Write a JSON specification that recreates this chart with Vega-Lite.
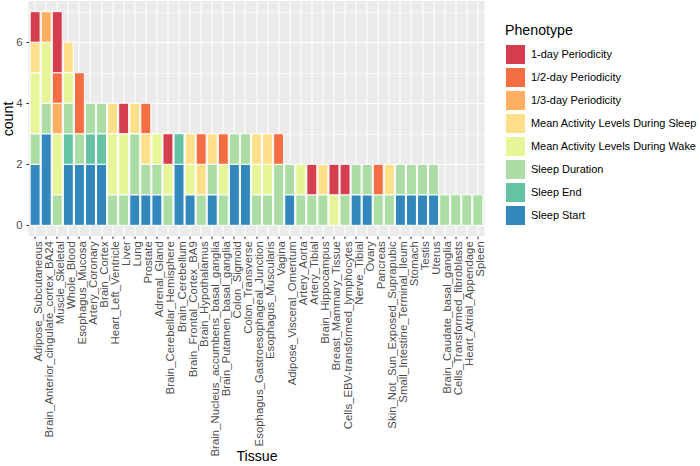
{
  "$schema": "https://vega.github.io/schema/vega-lite/v6.json",
  "width": 456,
  "height": 235,
  "autosize": {"type": "none"},
  "padding": {"left": 28.5, "top": 1, "right": 215.5, "bottom": 230},
  "background": "white",
  "config": {
    "font": "Liberation Sans",
    "view": {"stroke": null, "fill": "#EBEBEB"}
  },
  "data": {
    "values": [
      {"Tissue": "Adipose_Subcutaneous", "Phenotype": "Sleep Start", "count": 2},
      {"Tissue": "Adipose_Subcutaneous", "Phenotype": "Sleep Duration", "count": 1},
      {"Tissue": "Adipose_Subcutaneous", "Phenotype": "Mean Activity Levels During Wake", "count": 2},
      {"Tissue": "Adipose_Subcutaneous", "Phenotype": "Mean Activity Levels During Sleep", "count": 1},
      {"Tissue": "Adipose_Subcutaneous", "Phenotype": "1-day Periodicity", "count": 1},
      {"Tissue": "Brain_Anterior_cingulate_cortex_BA24", "Phenotype": "Sleep Start", "count": 3},
      {"Tissue": "Brain_Anterior_cingulate_cortex_BA24", "Phenotype": "Sleep Duration", "count": 1},
      {"Tissue": "Brain_Anterior_cingulate_cortex_BA24", "Phenotype": "Mean Activity Levels During Wake", "count": 2},
      {"Tissue": "Brain_Anterior_cingulate_cortex_BA24", "Phenotype": "1/3-day Periodicity", "count": 1},
      {"Tissue": "Muscle_Skeletal", "Phenotype": "Sleep Duration", "count": 1},
      {"Tissue": "Muscle_Skeletal", "Phenotype": "Mean Activity Levels During Wake", "count": 2},
      {"Tissue": "Muscle_Skeletal", "Phenotype": "1/3-day Periodicity", "count": 1},
      {"Tissue": "Muscle_Skeletal", "Phenotype": "1/2-day Periodicity", "count": 1},
      {"Tissue": "Muscle_Skeletal", "Phenotype": "1-day Periodicity", "count": 2},
      {"Tissue": "Whole_Blood", "Phenotype": "Sleep Start", "count": 2},
      {"Tissue": "Whole_Blood", "Phenotype": "Sleep End", "count": 1},
      {"Tissue": "Whole_Blood", "Phenotype": "Sleep Duration", "count": 1},
      {"Tissue": "Whole_Blood", "Phenotype": "Mean Activity Levels During Wake", "count": 1},
      {"Tissue": "Whole_Blood", "Phenotype": "Mean Activity Levels During Sleep", "count": 1},
      {"Tissue": "Esophagus_Mucosa", "Phenotype": "Sleep Start", "count": 2},
      {"Tissue": "Esophagus_Mucosa", "Phenotype": "Sleep Duration", "count": 1},
      {"Tissue": "Esophagus_Mucosa", "Phenotype": "1/2-day Periodicity", "count": 2},
      {"Tissue": "Artery_Coronary", "Phenotype": "Sleep Start", "count": 2},
      {"Tissue": "Artery_Coronary", "Phenotype": "Sleep End", "count": 1},
      {"Tissue": "Artery_Coronary", "Phenotype": "Sleep Duration", "count": 1},
      {"Tissue": "Brain_Cortex", "Phenotype": "Sleep Start", "count": 2},
      {"Tissue": "Brain_Cortex", "Phenotype": "Sleep End", "count": 1},
      {"Tissue": "Brain_Cortex", "Phenotype": "Sleep Duration", "count": 1},
      {"Tissue": "Heart_Left_Ventricle", "Phenotype": "Sleep Duration", "count": 1},
      {"Tissue": "Heart_Left_Ventricle", "Phenotype": "Mean Activity Levels During Wake", "count": 2},
      {"Tissue": "Heart_Left_Ventricle", "Phenotype": "Mean Activity Levels During Sleep", "count": 1},
      {"Tissue": "Liver", "Phenotype": "Sleep Duration", "count": 1},
      {"Tissue": "Liver", "Phenotype": "Mean Activity Levels During Wake", "count": 2},
      {"Tissue": "Liver", "Phenotype": "1-day Periodicity", "count": 1},
      {"Tissue": "Lung", "Phenotype": "Sleep Start", "count": 1},
      {"Tissue": "Lung", "Phenotype": "Sleep Duration", "count": 2},
      {"Tissue": "Lung", "Phenotype": "Mean Activity Levels During Sleep", "count": 1},
      {"Tissue": "Prostate", "Phenotype": "Sleep Start", "count": 1},
      {"Tissue": "Prostate", "Phenotype": "Sleep Duration", "count": 1},
      {"Tissue": "Prostate", "Phenotype": "Mean Activity Levels During Sleep", "count": 1},
      {"Tissue": "Prostate", "Phenotype": "1/2-day Periodicity", "count": 1},
      {"Tissue": "Adrenal_Gland", "Phenotype": "Sleep Start", "count": 1},
      {"Tissue": "Adrenal_Gland", "Phenotype": "Sleep Duration", "count": 1},
      {"Tissue": "Adrenal_Gland", "Phenotype": "Mean Activity Levels During Wake", "count": 1},
      {"Tissue": "Brain_Cerebellar_Hemisphere", "Phenotype": "Sleep Duration", "count": 1},
      {"Tissue": "Brain_Cerebellar_Hemisphere", "Phenotype": "Mean Activity Levels During Wake", "count": 1},
      {"Tissue": "Brain_Cerebellar_Hemisphere", "Phenotype": "1-day Periodicity", "count": 1},
      {"Tissue": "Brain_Cerebellum", "Phenotype": "Sleep Start", "count": 2},
      {"Tissue": "Brain_Cerebellum", "Phenotype": "Sleep End", "count": 1},
      {"Tissue": "Brain_Frontal_Cortex_BA9", "Phenotype": "Sleep Start", "count": 1},
      {"Tissue": "Brain_Frontal_Cortex_BA9", "Phenotype": "Mean Activity Levels During Wake", "count": 1},
      {"Tissue": "Brain_Frontal_Cortex_BA9", "Phenotype": "Mean Activity Levels During Sleep", "count": 1},
      {"Tissue": "Brain_Hypothalamus", "Phenotype": "Sleep Duration", "count": 1},
      {"Tissue": "Brain_Hypothalamus", "Phenotype": "Mean Activity Levels During Sleep", "count": 1},
      {"Tissue": "Brain_Hypothalamus", "Phenotype": "1/2-day Periodicity", "count": 1},
      {"Tissue": "Brain_Nucleus_accumbens_basal_ganglia", "Phenotype": "Sleep Start", "count": 1},
      {"Tissue": "Brain_Nucleus_accumbens_basal_ganglia", "Phenotype": "Sleep Duration", "count": 1},
      {"Tissue": "Brain_Nucleus_accumbens_basal_ganglia", "Phenotype": "Mean Activity Levels During Sleep", "count": 1},
      {"Tissue": "Brain_Putamen_basal_ganglia", "Phenotype": "Sleep Duration", "count": 1},
      {"Tissue": "Brain_Putamen_basal_ganglia", "Phenotype": "Mean Activity Levels During Wake", "count": 1},
      {"Tissue": "Brain_Putamen_basal_ganglia", "Phenotype": "1/2-day Periodicity", "count": 1},
      {"Tissue": "Colon_Sigmoid", "Phenotype": "Sleep Start", "count": 2},
      {"Tissue": "Colon_Sigmoid", "Phenotype": "Sleep Duration", "count": 1},
      {"Tissue": "Colon_Transverse", "Phenotype": "Sleep Start", "count": 2},
      {"Tissue": "Colon_Transverse", "Phenotype": "Sleep Duration", "count": 1},
      {"Tissue": "Esophagus_Gastroesophageal_Junction", "Phenotype": "Sleep Duration", "count": 1},
      {"Tissue": "Esophagus_Gastroesophageal_Junction", "Phenotype": "Mean Activity Levels During Wake", "count": 1},
      {"Tissue": "Esophagus_Gastroesophageal_Junction", "Phenotype": "Mean Activity Levels During Sleep", "count": 1},
      {"Tissue": "Esophagus_Muscularis", "Phenotype": "Sleep Duration", "count": 1},
      {"Tissue": "Esophagus_Muscularis", "Phenotype": "Mean Activity Levels During Wake", "count": 1},
      {"Tissue": "Esophagus_Muscularis", "Phenotype": "Mean Activity Levels During Sleep", "count": 1},
      {"Tissue": "Vagina", "Phenotype": "Sleep Duration", "count": 2},
      {"Tissue": "Vagina", "Phenotype": "1/2-day Periodicity", "count": 1},
      {"Tissue": "Adipose_Visceral_Omentum", "Phenotype": "Sleep Start", "count": 1},
      {"Tissue": "Adipose_Visceral_Omentum", "Phenotype": "Sleep Duration", "count": 1},
      {"Tissue": "Artery_Aorta", "Phenotype": "Sleep Duration", "count": 1},
      {"Tissue": "Artery_Aorta", "Phenotype": "Mean Activity Levels During Wake", "count": 1},
      {"Tissue": "Artery_Tibial", "Phenotype": "Sleep Duration", "count": 1},
      {"Tissue": "Artery_Tibial", "Phenotype": "1-day Periodicity", "count": 1},
      {"Tissue": "Brain_Hippocampus", "Phenotype": "Sleep Duration", "count": 1},
      {"Tissue": "Brain_Hippocampus", "Phenotype": "Mean Activity Levels During Sleep", "count": 1},
      {"Tissue": "Breast_Mammary_Tissue", "Phenotype": "Mean Activity Levels During Wake", "count": 1},
      {"Tissue": "Breast_Mammary_Tissue", "Phenotype": "1-day Periodicity", "count": 1},
      {"Tissue": "Cells_EBV-transformed_lymphocytes", "Phenotype": "Sleep Duration", "count": 1},
      {"Tissue": "Cells_EBV-transformed_lymphocytes", "Phenotype": "1-day Periodicity", "count": 1},
      {"Tissue": "Nerve_Tibial", "Phenotype": "Sleep Start", "count": 1},
      {"Tissue": "Nerve_Tibial", "Phenotype": "Sleep Duration", "count": 1},
      {"Tissue": "Ovary", "Phenotype": "Sleep Start", "count": 1},
      {"Tissue": "Ovary", "Phenotype": "Sleep Duration", "count": 1},
      {"Tissue": "Pancreas", "Phenotype": "Sleep Duration", "count": 1},
      {"Tissue": "Pancreas", "Phenotype": "1/2-day Periodicity", "count": 1},
      {"Tissue": "Skin_Not_Sun_Exposed_Suprapubic", "Phenotype": "Sleep Duration", "count": 1},
      {"Tissue": "Skin_Not_Sun_Exposed_Suprapubic", "Phenotype": "Mean Activity Levels During Sleep", "count": 1},
      {"Tissue": "Small_Intestine_Terminal_Ileum", "Phenotype": "Sleep Start", "count": 1},
      {"Tissue": "Small_Intestine_Terminal_Ileum", "Phenotype": "Sleep Duration", "count": 1},
      {"Tissue": "Stomach", "Phenotype": "Sleep Start", "count": 1},
      {"Tissue": "Stomach", "Phenotype": "Sleep Duration", "count": 1},
      {"Tissue": "Testis", "Phenotype": "Sleep Start", "count": 1},
      {"Tissue": "Testis", "Phenotype": "Sleep Duration", "count": 1},
      {"Tissue": "Uterus", "Phenotype": "Sleep Start", "count": 1},
      {"Tissue": "Uterus", "Phenotype": "Sleep Duration", "count": 1},
      {"Tissue": "Brain_Caudate_basal_ganglia", "Phenotype": "Sleep Duration", "count": 1},
      {"Tissue": "Cells_Transformed_fibroblasts", "Phenotype": "Sleep Duration", "count": 1},
      {"Tissue": "Heart_Atrial_Appendage", "Phenotype": "Sleep Duration", "count": 1},
      {"Tissue": "Spleen", "Phenotype": "Sleep Duration", "count": 1}
    ]
  },
  "mark": {"type": "bar", "stroke": "white", "strokeWidth": 1},
  "encoding": {
    "x": {
      "field": "Tissue",
      "type": "nominal",
      "sort": ["Adipose_Subcutaneous", "Brain_Anterior_cingulate_cortex_BA24", "Muscle_Skeletal", "Whole_Blood", "Esophagus_Mucosa", "Artery_Coronary", "Brain_Cortex", "Heart_Left_Ventricle", "Liver", "Lung", "Prostate", "Adrenal_Gland", "Brain_Cerebellar_Hemisphere", "Brain_Cerebellum", "Brain_Frontal_Cortex_BA9", "Brain_Hypothalamus", "Brain_Nucleus_accumbens_basal_ganglia", "Brain_Putamen_basal_ganglia", "Colon_Sigmoid", "Colon_Transverse", "Esophagus_Gastroesophageal_Junction", "Esophagus_Muscularis", "Vagina", "Adipose_Visceral_Omentum", "Artery_Aorta", "Artery_Tibial", "Brain_Hippocampus", "Breast_Mammary_Tissue", "Cells_EBV-transformed_lymphocytes", "Nerve_Tibial", "Ovary", "Pancreas", "Skin_Not_Sun_Exposed_Suprapubic", "Small_Intestine_Terminal_Ileum", "Stomach", "Testis", "Uterus", "Brain_Caudate_basal_ganglia", "Cells_Transformed_fibroblasts", "Heart_Atrial_Appendage", "Spleen"],
      "scale": {"paddingInner": 0.1, "paddingOuter": 0.15},
      "axis": {
        "title": "Tissue",
        "titleFontSize": 14.2,
        "titleFontWeight": "normal",
        "titleColor": "black",
        "titlePadding": 13,
        "labelAngle": -90,
        "labelAlign": "right",
        "labelBaseline": "middle",
        "labelOffset": 3.5,
        "labelFontSize": 11.4,
        "labelColor": "#4D4D4D",
        "labelPadding": 2,
        "labelOverlap": false,
        "labelLimit": 0,
        "domain": false,
        "ticks": true,
        "tickColor": "#333333",
        "tickSize": 2.7,
        "tickWidth": 1,
        "tickBand": "center",
        "grid": true,
        "bandPosition": 0.5,
        "gridColor": "white",
        "gridWidth": 1.1
      }
    },
    "y": {
      "field": "count",
      "type": "quantitative",
      "aggregate": "sum",
      "stack": "zero",
      "scale": {"domain": [-0.35, 7.35], "nice": false, "zero": false},
      "axis": {
        "title": "count",
        "titleFontSize": 14.2,
        "titleFontWeight": "normal",
        "titleColor": "black",
        "titlePadding": 0,
        "values": [0, 1, 2, 3, 4, 5, 6, 7],
        "labelExpr": "datum.value % 2 === 0 ? datum.label : ''",
        "labelFontSize": 11.4,
        "labelColor": "#4D4D4D",
        "labelPadding": 3.8,
        "domain": false,
        "tickColor": "#333333",
        "tickSize": 2.7,
        "tickWidth": 1,
        "tickOpacity": {"condition": {"test": "datum.value % 2 === 1", "value": 0}, "value": 1},
        "grid": true,
        "gridColor": "white",
        "gridWidth": {"condition": {"test": "datum.value % 2 === 1", "value": 0.55}, "value": 1.1}
      }
    },
    "color": {
      "field": "Phenotype",
      "type": "nominal",
      "scale": {
        "domain": ["1-day Periodicity", "1/2-day Periodicity", "1/3-day Periodicity", "Mean Activity Levels During Sleep", "Mean Activity Levels During Wake", "Sleep Duration", "Sleep End", "Sleep Start"],
        "range": ["#D53E4F", "#F46D43", "#FDAE61", "#FEE08B", "#E6F598", "#ABDDA4", "#66C2A5", "#3288BD"]
      },
      "legend": {
        "orient": "none",
        "legendX": 476.5,
        "legendY": 22.5,
        "padding": 0,
        "title": "Phenotype",
        "titleFontSize": 14.2,
        "titleFontWeight": "normal",
        "titleColor": "black",
        "titlePadding": 6.3,
        "symbolType": "square",
        "symbolSize": 400,
        "symbolStrokeColor": "white",
        "symbolStrokeWidth": 1,
        "symbolOpacity": 1,
        "labelFontSize": 10.95,
        "labelColor": "black",
        "labelOffset": 5,
        "labelLimit": 0,
        "rowPadding": -7.6
      }
    },
    "order": {"field": "Phenotype", "sort": "descending"}
  }
}
